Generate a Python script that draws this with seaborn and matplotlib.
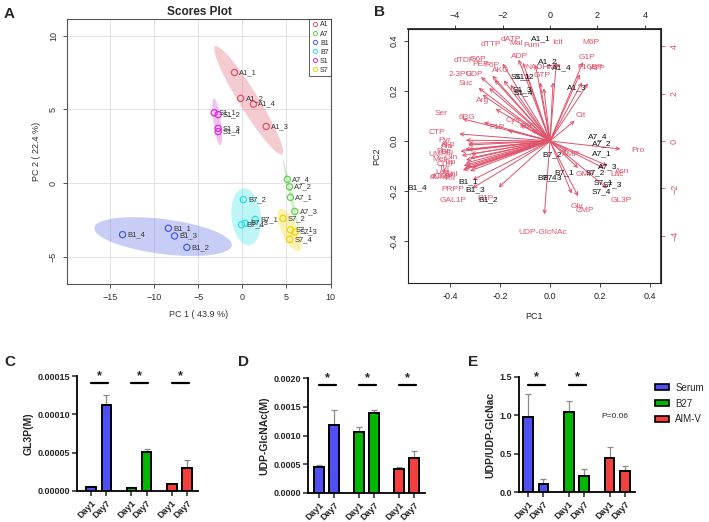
import numpy as np
import pandas as pd
import matplotlib
matplotlib.use("Agg")
import matplotlib.pyplot as plt
from matplotlib.patches import Ellipse, Patch
from matplotlib.lines import Line2D
import seaborn as sns

sns.set_theme(style="white")
plt.rcParams["font.family"] = ["Liberation Sans", "DejaVu Sans"]

# ---------------- data ----------------
sample_names = ["A1_1", "A1_2", "A1_3", "A1_4", "A7_1", "A7_2", "A7_3", "A7_4",
                "B1_1", "B1_2", "B1_3", "B1_4", "B7_1", "B7_2", "B7_3", "B7_4",
                "S1_1", "S1_2", "S1_3", "S1_4", "S7_1", "S7_2", "S7_3", "S7_4"]
group_names = ["A1", "A7", "B1", "B7", "S1", "S7"]

# scores plot (PC1 43.9 %, PC2 22.4 %)
pc1_scores = [-0.9, -0.2, 2.7, 1.25, 5.45, 5.35, 5.95, 5.1,
              -8.4, -6.3, -7.7, -13.6, 1.45, 0.1, 0.3, -0.1,
              -3.2, -2.75, -2.75, -2.75, 5.45, 4.6, 5.95, 5.35]
pc2_scores = [7.5, 5.75, 3.85, 5.36, -0.95, -0.23, -1.9, 0.27,
              -3.04, -4.33, -3.56, -3.47, -2.44, -1.1, -2.7, -2.8,
              4.78, 4.65, 3.72, 3.5, -3.15, -2.37, -3.3, -3.79]

# biplot sample coordinates
bi_pc1 = [-0.037, -0.007, 0.107, 0.049, 0.209, 0.205, 0.232, 0.189,
          -0.328, -0.248, -0.300, -0.531, 0.056, 0.009, 0.009, -0.011,
          -0.117, -0.104, -0.111, -0.107, 0.212, 0.180, 0.249, 0.205]
bi_pc2 = [0.408, 0.315, 0.211, 0.293, -0.052, -0.012, -0.103, 0.016,
          -0.163, -0.236, -0.196, -0.189, -0.129, -0.056, -0.149, -0.149,
          0.257, 0.255, 0.204, 0.193, -0.169, -0.128, -0.177, -0.205]

# biplot metabolite loadings (label positions)
metabolites = ["dATP", "Mal", "Fum", "Icit", "M6P", "dTTP", "ADP", "G1P", "F16BP", "ATP",
               "G6P", "PEP", "F6P", "AKG", "NADH", "IMP", "GTP", "dTDP", "2-3PG", "UDP",
               "Suc", "Arg", "Ser", "6PG", "Cys", "F1P", "FBP", "Cit",
               "CTP", "Pyr", "Asp", "Glu", "UMP", "Phe", "Met", "CDP", "Leu", "Ile",
               "dUMP", "dCMP", "Thr", "Val", "Tyr", "Trp", "Gln", "Ala", "PRPP", "GAL1P", "R1P",
               "UDP-GlcNAc", "Pro", "AMP", "GMP", "Asn", "Lac", "GL3P", "Gly", "CMP"]
load_pc1 = [-0.157, -0.135, -0.073, 0.032, 0.165, -0.237, -0.120, 0.149, 0.160, 0.190,
            -0.288, -0.277, -0.231, -0.197, -0.050, 0.015, -0.031, -0.344, -0.357, -0.304,
            -0.337, -0.271, -0.437, -0.331, -0.148, -0.211, -0.090, 0.123,
            -0.453, -0.421, -0.407, -0.411, -0.448, -0.425, -0.441, -0.420, -0.431, -0.418,
            -0.436, -0.430, -0.400, -0.390, -0.420, -0.400, -0.395, -0.410, -0.387, -0.388, -0.257,
            -0.028, 0.352, 0.085, 0.140, 0.287, 0.269, 0.285, 0.109, 0.140]
load_pc2 = [0.407, 0.391, 0.381, 0.395, 0.395, 0.387, 0.340, 0.333, 0.293, 0.288,
            0.327, 0.305, 0.303, 0.281, 0.293, 0.293, 0.263, 0.320, 0.265, 0.265,
            0.231, 0.160, 0.111, 0.093, 0.081, 0.053, 0.057, 0.101,
            0.035, 0.004, -0.012, -0.044, -0.052, -0.042, -0.073, -0.095, -0.124, -0.128,
            -0.146, -0.140, -0.150, -0.135, -0.110, -0.085, -0.065, -0.020, -0.195, -0.236, -0.232,
            -0.367, -0.040, -0.053, -0.135, -0.123, -0.136, -0.236, -0.263, -0.276]

# bar charts
media = ["Serum", "B27", "AIM-V"]
days = ["Day1", "Day7"]
gl3p_mean = [5.2e-6, 1.116e-4, 4.3e-6, 5.13e-5, 9.0e-6, 3.02e-5]
gl3p_err = [1.3e-6, 1.3e-5, 0.9e-6, 3.9e-6, 0.5e-6, 1.08e-5]
glcnac_mean = [4.6e-4, 1.18e-3, 1.06e-3, 1.383e-3, 4.15e-4, 6.05e-4]
glcnac_err = [3.5e-5, 2.7e-4, 9.0e-5, 6.0e-5, 3.5e-5, 1.25e-4]
ratio_mean = [0.978, 0.10, 1.04, 0.204, 0.443, 0.274]
ratio_err = [0.30, 0.065, 0.147, 0.096, 0.147, 0.069]

# ---------------- styling ----------------
group_colors = ["#DF536B", "#61D04F", "#4A5CE0", "#28E2E5", "#D62FD6", "#F5D300"]
media_colors = ["#5050F2", "#00B800", "#F43F3F"]
bi_red = "#DF536B"
W, H = 709, 522


def px_axes(fig, left, top, right, bottom):
    return fig.add_axes([left / W, 1 - bottom / H, (right - left) / W, (bottom - top) / H])


def conf_ellipse(x, y, color):
    x, y = np.asarray(x), np.asarray(y)
    vals, vecs = np.linalg.eigh(np.cov(x, y))
    order = vals.argsort()[::-1]
    vals, vecs = vals[order], vecs[:, order]
    angle = np.degrees(np.arctan2(vecs[1, 0], vecs[0, 0]))
    w, h = 2 * 2.4477 * np.sqrt(vals)
    return Ellipse((x.mean(), y.mean()), w, h, angle=angle,
                   facecolor=color, alpha=0.3, edgecolor="none", zorder=1)


fig = plt.figure(figsize=(W / 100, H / 100), dpi=100)

# ---------------- A: scores plot ----------------
ax = px_axes(fig, 67, 19, 331, 284)
df_scores = pd.DataFrame({"name": sample_names, "pc1": pc1_scores, "pc2": pc2_scores})
df_scores["group"] = df_scores["name"].str[:2]
palette = dict(zip(group_names, group_colors))
for g in group_names:
    sub = df_scores[df_scores["group"] == g]
    ax.add_patch(conf_ellipse(sub["pc1"], sub["pc2"], palette[g]))
sns.scatterplot(data=df_scores, x="pc1", y="pc2", hue="group", palette=palette,
                s=20, linewidth=0.9, legend=False, ax=ax, zorder=3)
pts = ax.collections[-1]
pts.set_edgecolors(pts.get_facecolors())
pts.set_facecolor("none")
for _, r in df_scores.iterrows():
    ax.annotate(r["name"], (r["pc1"], r["pc2"]), xytext=(3.5, 0), textcoords="offset points",
                ha="left", va="center", fontsize=5.5, color="#333333", zorder=4)
ax.set_xlim(-19.9, 10.05)
ax.set_ylim(-6.81, 11.12)
ax.set_xticks([-15, -10, -5, 0, 5, 10])
ax.set_yticks([-5, 0, 5, 10])
ax.grid(True, color="#dddddd", lw=0.6)
ax.set_axisbelow(True)
ax.tick_params(labelsize=6.5, colors="#333333", length=3, direction="out", bottom=True, left=True, width=0.6)
plt.setp(ax.get_yticklabels(), rotation=90, va="center")
for s in ax.spines.values():
    s.set_color("#555555")
    s.set_linewidth(0.8)
ax.set_xlabel("PC 1 ( 43.9 %)", fontsize=6.5, color="#333333", labelpad=6)
ax.set_ylabel("PC 2 ( 22.4 %)", fontsize=6.5, color="#333333", labelpad=6)
ax.set_title("Scores Plot", fontsize=8.5, fontweight="bold", pad=3)
handles = [Line2D([], [], marker="o", ls="none", markerfacecolor="none",
                  markeredgecolor=c, markersize=3, markeredgewidth=0.7) for c in group_colors]
leg = ax.legend(handles, group_names, loc="upper right", fontsize=5, frameon=True,
                fancybox=False, edgecolor="#333333", handletextpad=0.2, borderpad=0.35,
                labelspacing=0.3, handlelength=1.0, borderaxespad=0)
leg.get_frame().set_linewidth(0.7)

# ---------------- B: biplot ----------------
ax = px_axes(fig, 408, 29, 661, 283)
for name, x, y in zip(metabolites, load_pc1, load_pc2):
    ax.annotate("", xy=(0.8 * x, 0.8 * y), xytext=(0, 0),
                arrowprops=dict(arrowstyle="->", color=bi_red, lw=0.7,
                                shrinkA=0, shrinkB=0, mutation_scale=6))
    ax.text(x, y, name, color=bi_red, fontsize=6, ha="center", va="center")
for name, x, y in zip(sample_names, bi_pc1, bi_pc2):
    ax.text(x, y, name, color="#111111", fontsize=6, ha="center", va="center")
ax.set_xlim(-0.568, 0.444)
ax.set_ylim(-0.568, 0.448)
ax.set_xticks([-0.4, -0.2, 0.0, 0.2, 0.4])
ax.set_yticks([-0.4, -0.2, 0.0, 0.2, 0.4])
ax.set_xticklabels([f"{v:.1f}" for v in ax.get_xticks()])
ax.set_yticklabels([f"{v:.1f}" for v in ax.get_yticks()], rotation=90, va="center")
ax.tick_params(labelsize=6.5, colors="#222222", length=3, direction="out", bottom=True, left=True, width=0.6)
for s in ax.spines.values():
    s.set_color("#222222")
    s.set_linewidth(0.8)
ax.set_xlabel("PC1", fontsize=6.5, labelpad=8)
ax.set_ylabel("PC2", fontsize=6.5, labelpad=6)
k = 10.53
top = ax.secondary_xaxis("top", functions=(lambda v: v * k, lambda v: v / k))
top.set_xticks([-4, -2, 0, 2, 4])
top.tick_params(labelsize=6.5, colors="#222222", length=3, width=0.6, direction="out")
right = ax.secondary_yaxis("right", functions=(lambda v: v * k, lambda v: v / k))
right.set_yticks([-4, -2, 0, 2, 4])
right.tick_params(labelsize=6.5, colors=bi_red, length=3, width=0.6, direction="out")
plt.setp(right.get_yticklabels(), rotation=90, va="center")

# ---------------- C, D, E: bar charts ----------------
positions = [0, 1, 2.65, 3.65, 5.3, 6.3]


def bar_panel(ax, means, errs, ylim, yticks, fmt, ylabel, xlim, sig_groups, sig_y, star_y):
    df = pd.DataFrame({"pos": positions, "val": means, "medium": np.repeat(media, 2)})
    sns.barplot(data=df, x="pos", y="val", hue="medium", palette=media_colors,
                native_scale=True, dodge=False, width=0.62, edgecolor="black",
                linewidth=1.4, errorbar=None, legend=False, saturation=1, ax=ax, zorder=3)
    ax.errorbar(positions, means, yerr=[np.zeros(len(errs)), errs], fmt="none",
                ecolor="#8a8a8a", elinewidth=0.9, capsize=2.2, capthick=0.9, zorder=2)
    for gi in sig_groups:
        x0, x1 = positions[2 * gi], positions[2 * gi + 1]
        ax.plot([x0, x1 + 0.1], [sig_y, sig_y], color="black", lw=1.6, clip_on=False)
        ax.text((x0 + x1) / 2 + 0.05, star_y, "*", ha="center", va="center",
                fontsize=9, fontweight="bold")
    ax.set_xlim(*xlim)
    ax.set_ylim(*ylim)
    ax.set_yticks(yticks)
    ax.set_yticklabels([fmt.format(v) for v in yticks], fontsize=6.5, fontweight="bold")
    ax.set_xticks(positions)
    ax.set_xticklabels(days * 3, rotation=45, ha="right", rotation_mode="anchor",
                       fontsize=6.5, fontweight="bold")
    ax.set_xlabel("")
    ax.set_ylabel(ylabel, fontsize=7.5, fontweight="bold", labelpad=3)
    ax.tick_params(axis="both", length=3.5, width=1.1, direction="out", bottom=True, left=True, pad=1.5)
    sns.despine(ax=ax)
    for s in ("left", "bottom"):
        ax.spines[s].set_linewidth(1.3)
        ax.spines[s].set_color("black")


ax_c = px_axes(fig, 77, 376, 198, 491)
bar_panel(ax_c, gl3p_mean, gl3p_err, (0, 0.00015), [0, 0.00005, 0.0001, 0.00015], "{:.5f}",
          "GL3P(M)", (-0.92, 7.02), [0, 1, 2], 0.0001405, 0.000150)

ax_d = px_axes(fig, 308, 378, 425, 493)
bar_panel(ax_d, glcnac_mean, glcnac_err, (0, 0.002), [0, 0.0005, 0.001, 0.0015, 0.002], "{:.4f}",
          "UDP-GlcNAc(M)", (-0.73, 7.03), [0, 1, 2], 0.00187, 0.00200)

ax_e = px_axes(fig, 519, 377, 635, 492)
bar_panel(ax_e, ratio_mean, ratio_err, (0, 1.5), [0, 0.5, 1.0, 1.5], "{:.1f}",
          "UDP/UDP-GlcNac", (-0.58, 6.95), [0, 1], 1.40, 1.50)
ax_e.text(5.65, 0.98, "P=0.06", fontsize=6, ha="center", va="center")
leg_handles = [Patch(facecolor=c, edgecolor="black", linewidth=1.2) for c in media_colors]
fig.legend(leg_handles, media, loc="upper left", bbox_to_anchor=(646 / W, 1 - 374 / H),
           fontsize=7, frameon=False, handlelength=1.5, handleheight=0.55,
           handletextpad=0.6, labelspacing=0.6)

# panel letters
for letter, x, y in [("A", 4, 14), ("B", 374, 12), ("C", 4, 362), ("D", 238, 362), ("E", 468, 362)]:
    fig.text(x / W, 1 - y / H, letter, fontsize=11, fontweight="bold", va="center", ha="left")

fig.savefig("out.png", dpi=100)
